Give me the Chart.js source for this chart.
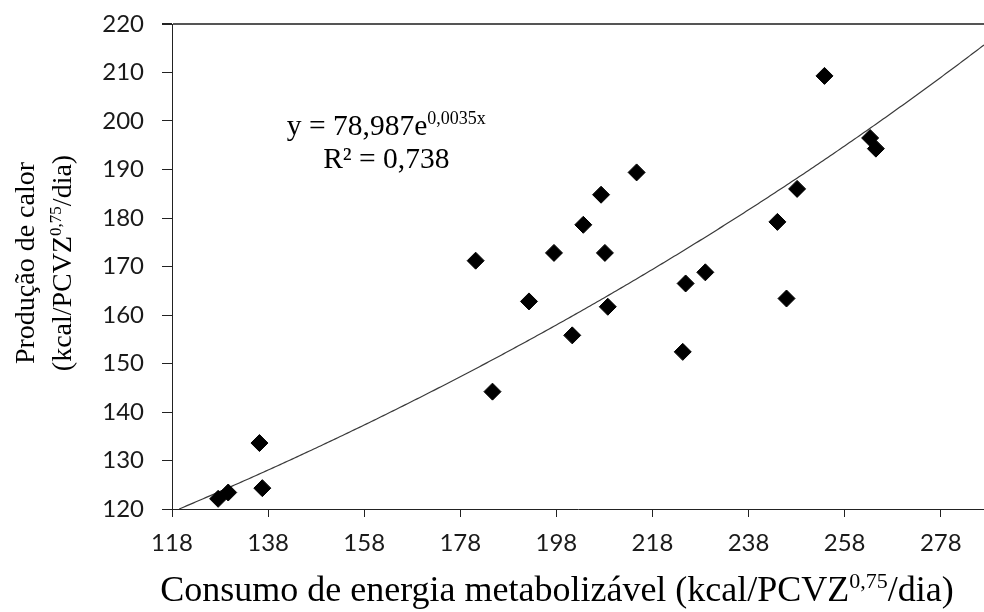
<!DOCTYPE html>
<html>
<head>
<meta charset="utf-8">
<script src="https://cdn.jsdelivr.net/npm/chart.js@4.4.1/dist/chart.umd.min.js"></script>
<style>
  html, body { margin: 0; padding: 0; background: #fff; }
</style>
</head>
<body>
<canvas id="myChart" width="984" height="612"></canvas>

<script>
    // Consumo de energia metabolizável (eixo x) e produção de calor (eixo y)
    var consumo = [127.6, 129.7, 136.2, 136.8, 181.2, 184.7, 192.3, 197.5, 201.3, 203.6, 207.3, 208.1,
                   208.7, 214.7, 224.3, 224.9, 229.0, 244.0, 245.9, 248.1, 253.8, 263.3, 264.5];
    var producao = [122.1, 123.4, 133.6, 124.3, 171.2, 144.2, 162.8, 172.8, 155.8, 178.6, 184.8, 172.8,
                    161.7, 189.4, 152.4, 166.5, 168.8, 179.2, 163.4, 186.0, 209.3, 196.5, 194.3];

    // Ticks de l'axe X (commencent à 118)
    var xTicks = [118, 138, 158, 178, 198, 218, 238, 258, 278];

    // Courbe de tendance exponentielle affichée : y = 78,987 e^(0,0035x)
    var trendA = 78.987;
    var trendB = 0.0035;
    var trendFrom = 119.5, trendTo = 287;

    var pontos = consumo.map(function(x, i) { return { x: x, y: producao[i] }; });
    var tendencia = [];
    for (var x = trendFrom; x <= trendTo; x += 0.5) {
        tendencia.push({ x: x, y: trendA * Math.exp(trendB * x) });
    }

    // Texte avec exposants (parts = [{t: '...', sup: true/false}])
    function drawRich(ctx, parts, x, y, size, family) {
        var supSize = Math.round(size * 0.62);
        var total = 0;
        parts.forEach(function(p) {
            ctx.font = (p.sup ? supSize : size) + 'px ' + family;
            p.w = ctx.measureText(p.t).width;
            total += p.w;
        });
        var cx = x - total / 2;
        ctx.textAlign = 'left';
        ctx.textBaseline = 'alphabetic';
        parts.forEach(function(p) {
            ctx.font = (p.sup ? supSize : size) + 'px ' + family;
            ctx.fillText(p.t, cx, p.sup ? y - size * 0.36 : y);
            cx += p.w;
        });
    }

    var textPlugin = {
        id: 'textPlugin',
        afterDraw: function(chart) {
            var ctx = chart.ctx;
            var serif = '"Liberation Serif", "Times New Roman", serif';
            ctx.save();
            ctx.fillStyle = '#000';

            // Titre axe X
            drawRich(ctx, [
                { t: 'Consumo de energia metabolizável (kcal/PCVZ' },
                { t: '0,75', sup: true },
                { t: '/dia)' }
            ], 557, 601, 36, serif);

            // Titre axe Y (deux lignes, tourné)
            ctx.save();
            ctx.translate(0, 263);
            ctx.rotate(-Math.PI / 2);
            drawRich(ctx, [{ t: 'Produção de calor' }], 0, 34, 28, serif);
            drawRich(ctx, [
                { t: '(kcal/PCVZ' },
                { t: '0,75', sup: true },
                { t: '/dia)' }
            ], 0, 71, 28, serif);
            ctx.restore();

            // Équation de la tendance
            var ex = chart.scales.x.getPixelForValue(162.6);
            var ey = chart.scales.y.getPixelForValue(197.2);
            drawRich(ctx, [
                { t: 'y = 78,987e' },
                { t: '0,0035x', sup: true }
            ], ex, ey, 29.5, serif);
            drawRich(ctx, [{ t: 'R² = 0,738' }], ex, ey + 33, 29.5, serif);

            ctx.restore();
        }
    };

    var ctx = document.getElementById('myChart').getContext('2d');

    var myChart = new Chart(ctx, {
        type: 'scatter',
        data: {
            datasets: [{
                data: pontos,
                pointStyle: 'rectRot',
                pointRadius: 8.5,
                pointHoverRadius: 8.5,
                backgroundColor: '#000',
                borderColor: '#000',
                borderWidth: 1,
                order: 1
            }, {
                type: 'line',
                data: tendencia,
                borderColor: '#3a3a3a',
                borderWidth: 1.2,
                pointRadius: 0,
                fill: false,
                tension: 0,
                order: 2
            }]
        },
        options: {
            responsive: false,
            animation: false,
            events: [],
            layout: { autoPadding: false, padding: { top: 24, left: 0, right: 0, bottom: 0 } },
            plugins: {
                legend: { display: false },
                tooltip: { enabled: false }
            },
            scales: {
                x: {
                    type: 'linear',
                    min: 118,
                    max: 287,
                    afterBuildTicks: function(scale) {
                        scale.ticks = xTicks.map(function(v) { return { value: v }; });
                    },
                    afterFit: function(scale) {
                        scale.height = 103;
                        scale.paddingLeft = 0;
                        scale.paddingRight = 0;
                    },
                    border: { display: true, color: '#222', width: 1 },
                    grid: {
                        drawOnChartArea: false,
                        tickLength: 8,
                        color: '#222'
                    },
                    ticks: {
                        padding: 12,
                        maxRotation: 0,
                        color: '#1a1a1a',
                        font: { family: 'Lato', size: 24 }
                    }
                },
                y: {
                    min: 120,
                    max: 220,
                    afterFit: function(scale) {
                        scale.width = 172;
                        scale.paddingTop = 0;
                        scale.paddingBottom = 0;
                    },
                    border: { display: true, color: '#222', width: 1 },
                    grid: {
                        drawOnChartArea: true,
                        tickLength: 10,
                        color: function(c) { return c.tick && c.tick.value === 220 ? '#555' : 'rgba(0,0,0,0)'; },
                        lineWidth: function(c) { return c.tick && c.tick.value === 220 ? 2 : 1; },
                        tickColor: '#222'
                    },
                    ticks: {
                        stepSize: 10,
                        padding: 18,
                        color: '#1a1a1a',
                        font: { family: 'Lato', size: 24 }
                    }
                }
            }
        },
        plugins: [textPlugin]
    });
</script>
</body>
</html>
